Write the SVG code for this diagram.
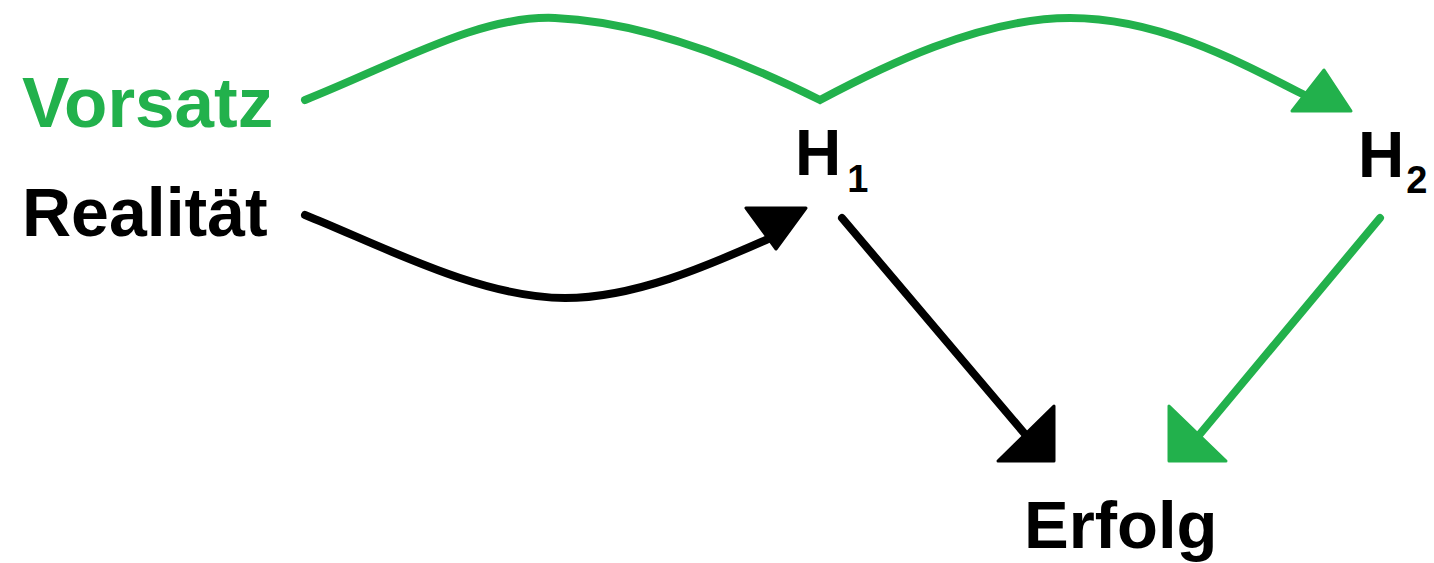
<svg xmlns="http://www.w3.org/2000/svg" width="1434" height="563" viewBox="0 0 1434 563">
<style>
.t{font-family:"Liberation Sans",Arial,sans-serif;font-weight:bold;fill:#000}
.g{fill:#22b14c}
.lg{fill:none;stroke:#22b14c;stroke-width:8;stroke-linecap:round;stroke-linejoin:miter}
.lb{fill:none;stroke:#000;stroke-width:8;stroke-linecap:round}
.hg{fill:#22b14c;stroke:#22b14c;stroke-width:3;stroke-linejoin:round}
.hb{fill:#000;stroke:#000;stroke-width:3;stroke-linejoin:round}
</style>
<rect width="1434" height="563" fill="#fff"/>
<g id="vorsatz"><text class="t g" x="22" y="127" font-size="71">Vorsatz</text></g>
<g id="realitaet"><text class="t" x="22" y="236" font-size="68">Realität</text></g>
<g id="h1"><text class="t" x="795" y="175" font-size="64">H<tspan font-size="38" dx="6" dy="17">1</tspan></text></g>
<g id="h2"><text class="t" x="1358" y="177" font-size="64">H<tspan font-size="38" dx="2" dy="16">2</tspan></text></g>
<g id="erfolg"><text class="t" x="1024" y="548" font-size="67">Erfolg</text></g>
<g id="connectors">
<path class="lg" d="M305,100 C400,62 480,15 555,18 C650,22 750,65 820,100 C880,68 980,18 1070,18 C1160,18 1240,62 1310,98"/>
<polygon class="hg" points="1292,111 1324,70 1351,111"/>
<path class="lb" d="M305,215 C380,245 480,298 565,298 C640,298 720,260 775,236"/>
<polygon class="hb" points="746,208 806,208 776,249"/>
<path class="lb" d="M842,218 L1030,440"/>
<polygon class="hb" points="1054,406 1054,461 998,461"/>
<path class="lg" d="M1380,218 L1195,440"/>
<polygon class="hg" points="1169,406 1169,461 1226,461"/>
</g>
</svg>
